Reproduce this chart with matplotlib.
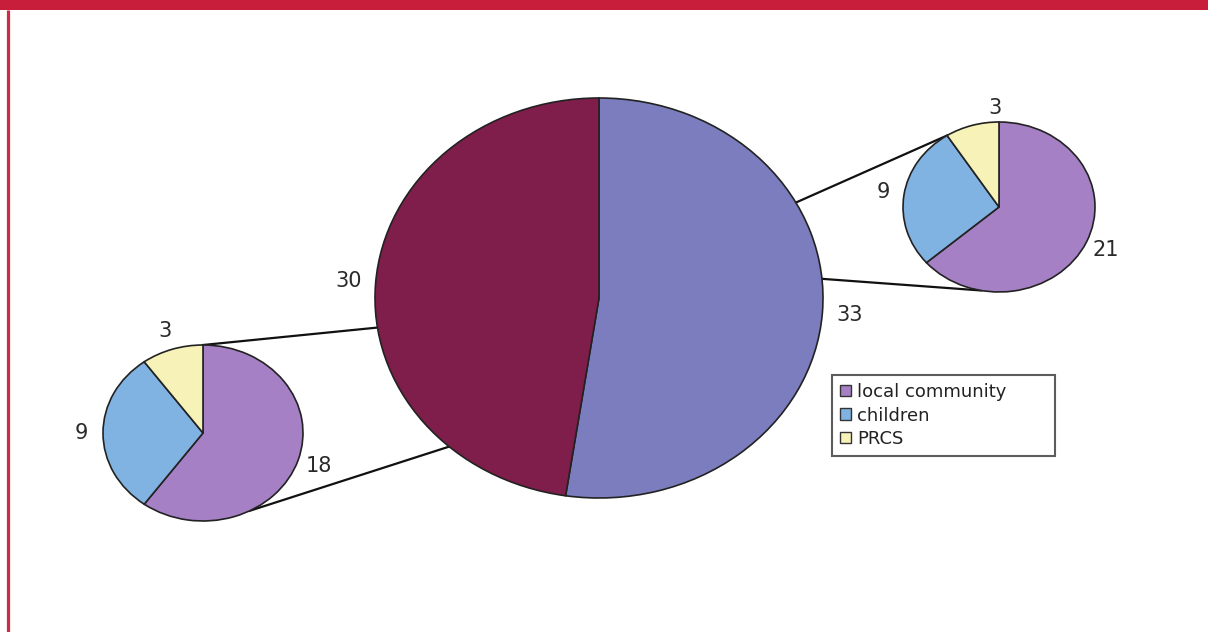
import numpy as np
import matplotlib.pyplot as plt
from matplotlib.patches import Rectangle, Patch

plt.rcParams['font.family'] = ['DejaVu Sans']

# main split and the two breakdowns
main_values = [33, 30]
right_values = [21, 9, 3]
left_values = [18, 9, 3]
categories = ['local community', 'children', 'PRCS']

main_colors = ['#7b7dbf', '#7f1d4b']
sub_colors = ['#a680c5', '#80b3e2', '#f7f2b8']

W, H = 1208, 632
fig = plt.figure(figsize=(W / 100, H / 100), dpi=100)

# pie geometry in pixels: centre x, centre y (from top), x radius, y radius
main_geo = (599, 298, 224, 200)
left_geo = (203, 433, 100, 88)
right_geo = (999, 207, 96, 85)


def fig_rect(geo):
    cx, cy, rx, ry = geo
    return [(cx - rx) / W, 1 - (cy + ry) / H, 2 * rx / W, 2 * ry / H]


def edge_point(geo, deg):
    cx, cy, rx, ry = geo
    a = np.deg2rad(deg)
    return cx + rx * np.cos(a), cy - ry * np.sin(a)


# background layer: header bar, side rule, connector lines
bg = fig.add_axes([0, 0, 1, 1])
bg.set_xlim(0, W)
bg.set_ylim(H, 0)
bg.axis('off')
bg.add_patch(Rectangle((0, 0), W, 10, color='#c81e3c', lw=0))
bg.plot([7.5, 7.5], [10, H], color='#cf2a47', lw=2.3, solid_capstyle='butt')

connectors = [
    (left_geo, 90, main_geo, 188.5),
    (left_geo, -62, main_geo, 228),
    (right_geo, 122.7, main_geo, 28.5),
    (right_geo, -101, main_geo, 5.5),
]
for g1, a1, g2, a2 in connectors:
    x1, y1 = edge_point(g1, a1)
    x2, y2 = edge_point(g2, a2)
    bg.plot([x1, x2], [y1, y2], color='#111111', lw=1.6)


def draw_pie(geo, values, colors, dist):
    ax = fig.add_axes(fig_rect(geo))
    wedges, texts = ax.pie(values, colors=colors, startangle=90, counterclock=False,
                           labels=[str(v) for v in values], labeldistance=dist,
                           wedgeprops=dict(edgecolor='#222222', linewidth=1.2),
                           textprops=dict(fontsize=15, color='#2a2a2a'))
    for w in wedges:
        w.set_clip_on(False)
    for t in texts:
        t.set_ha('center')
        t.set_va('center')
    ax.set_aspect('auto')
    ax.set_xlim(-1, 1)
    ax.set_ylim(-1, 1)
    ax.axis('off')
    return ax, texts


draw_pie(main_geo, main_values, main_colors, 1.12)
draw_pie(left_geo, left_values, sub_colors, 1.22)
_, right_texts = draw_pie(right_geo, right_values, sub_colors, 1.22)
# the small slice label sits straight above the pie
x, y = right_texts[2].get_position()
right_texts[2].set_position((x + 0.3, y))

handles = [Patch(facecolor=c, edgecolor='#333333', lw=1.0) for c in sub_colors]
leg = fig.legend(handles, categories, loc='upper left', mode='expand',
                 bbox_to_anchor=(832 / W, 1 - 375 / H, 223 / W, 0.0), frameon=True,
                 fancybox=False, edgecolor='#333333', fontsize=13, handlelength=0.6,
                 handleheight=0.6, handletextpad=0.35, labelspacing=0.3, borderpad=0.45,
                 borderaxespad=0)
leg.get_frame().set_linewidth(1.5)
for t in leg.get_texts():
    t.set_color('#222222')

fig.savefig('out.png', dpi=100)
